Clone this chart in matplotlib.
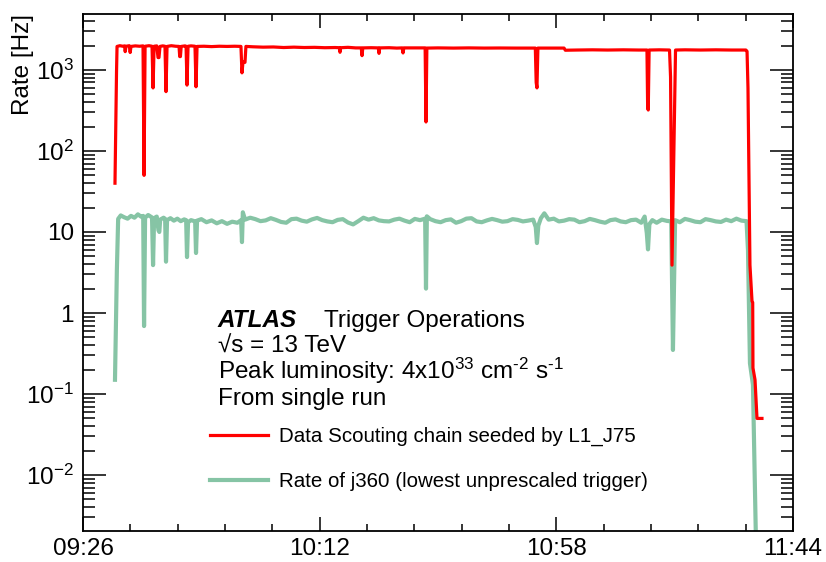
import matplotlib
matplotlib.use("Agg")
import matplotlib.pyplot as plt
import matplotlib.dates as mdates
from matplotlib.ticker import FixedLocator, FixedFormatter, LogLocator, NullFormatter
from matplotlib.lines import Line2D
import numpy as np
import pandas as pd

plt.rcParams['font.family'] = ['Liberation Sans', 'DejaVu Sans']
plt.rcParams['mathtext.fontset'] = 'custom'
plt.rcParams['mathtext.rm'] = 'Liberation Sans'
plt.rcParams['mathtext.it'] = 'Liberation Sans:italic'
plt.rcParams['mathtext.bf'] = 'Liberation Sans:bold'

DAY = "2016-01-01 "

# ---------------- data ----------------
red_times = [
    "09:32:13", "09:32:31", "09:32:37", "09:33:10", "09:33:45", "09:34:05", "09:34:12", "09:34:22",
    "09:35:00", "09:35:10", "09:35:20", "09:36:10", "09:37:00", "09:37:40", "09:37:52", "09:38:04",
    "09:38:50", "09:39:25", "09:39:37", "09:39:49", "09:40:20", "09:40:35", "09:40:46", "09:40:58",
    "09:41:30", "09:41:56", "09:42:08", "09:42:20", "09:43:10", "09:44:00", "09:44:40", "09:44:48",
    "09:44:56", "09:45:05", "09:45:50", "09:46:02", "09:46:13", "09:46:25", "09:47:00", "09:47:46",
    "09:47:58", "09:48:10", "09:49:30", "09:51:00", "09:52:30", "09:54:00", "09:55:30", "09:56:42",
    "09:56:54", "09:57:06", "09:57:29", "09:57:40", "09:59:00", "10:01:00", "10:03:00", "10:05:00",
    "10:07:00", "10:09:00", "10:11:00", "10:13:00", "10:15:00", "10:15:50", "10:15:57", "10:16:05",
    "10:17:30", "10:19:00", "10:20:05", "10:20:14", "10:20:23", "10:22:00", "10:23:24", "10:23:32",
    "10:23:40", "10:25:30", "10:27:00", "10:28:02", "10:28:12", "10:28:22", "10:30:30", "10:32:30",
    "10:32:40", "10:32:50", "10:35:00", "10:38:00", "10:41:00", "10:44:00", "10:47:00", "10:50:00",
    "10:53:55", "10:54:05", "10:54:14", "10:54:25", "10:56:30", "10:59:30", "10:59:45", "11:02:00",
    "11:05:00", "11:08:00", "11:11:00", "11:14:00", "11:15:37", "11:15:45", "11:15:52", "11:16:02",
    "11:18:00", "11:20:00", "11:20:12", "11:20:29", "11:21:10", "11:23:00", "11:26:00", "11:29:00",
    "11:32:00", "11:34:50", "11:35:04", "11:35:15", "11:35:38", "11:36:02", "11:36:10", "11:36:13",
    "11:36:37", "11:37:00", "11:37:58",
]
red_rates = [
    40, 950, 1950, 1990, 1960, 1980, 1680, 1960,
    1990, 1640, 1950, 1980, 1960, 1980, 50, 1960,
    1990, 1960, 600, 1960, 1980, 1420, 1420, 1950,
    1980, 1960, 540, 1950, 1990, 1960, 1950, 1460,
    1460, 1950, 1980, 1960, 650, 1960, 1980, 1960,
    620, 1950, 1960, 1940, 1960, 1950, 1960, 1950,
    920, 1260, 1240, 1950, 1930, 1910, 1920, 1890,
    1910, 1890, 1900, 1880, 1890, 1880, 1650, 1880,
    1900, 1870, 1870, 1500, 1870, 1880, 1870, 1600,
    1870, 1880, 1860, 1870, 1620, 1870, 1870, 1870,
    228, 1860, 1870, 1860, 1870, 1860, 1865, 1860,
    1860, 700, 600, 1860, 1860, 1860, 1750, 1760,
    1770, 1760, 1770, 1760, 1760, 340, 320, 1760,
    1770, 1760, 820, 3.9, 1760, 1770, 1760, 1770,
    1760, 1760, 1700, 600, 3.9, 1.4, 1.35, 0.21,
    0.15, 0.05, 0.05,
]

green_times = [
    "09:32:13", "09:32:35", "09:32:50", "09:33:20", "09:34:00", "09:34:40", "09:35:20", "09:36:00",
    "09:36:40", "09:37:20", "09:37:42", "09:37:52", "09:38:04", "09:38:40", "09:39:25", "09:39:37",
    "09:39:49", "09:40:20", "09:40:40", "09:40:50", "09:41:00", "09:41:40", "09:41:58", "09:42:08",
    "09:42:20", "09:43:00", "09:43:40", "09:44:20", "09:45:00", "09:45:40", "09:46:03", "09:46:13",
    "09:46:25", "09:47:00", "09:47:48", "09:47:58", "09:48:10", "09:49:00", "09:50:00", "09:51:00",
    "09:52:00", "09:53:00", "09:54:00", "09:55:00", "09:56:00", "09:56:44", "09:56:54", "09:57:04",
    "09:57:30", "09:58:30", "09:59:30", "10:00:30", "10:01:30", "10:02:30", "10:03:30", "10:04:30",
    "10:05:30", "10:06:30", "10:07:30", "10:08:30", "10:09:30", "10:10:30", "10:11:30", "10:12:30",
    "10:13:30", "10:14:30", "10:15:30", "10:16:30", "10:17:30", "10:18:30", "10:19:30", "10:20:30",
    "10:21:30", "10:22:30", "10:23:30", "10:24:30", "10:25:30", "10:26:30", "10:27:30", "10:28:30",
    "10:29:30", "10:30:30", "10:31:30", "10:32:30", "10:32:40", "10:32:50", "10:33:30", "10:34:30",
    "10:35:30", "10:36:30", "10:37:30", "10:38:30", "10:39:30", "10:40:30", "10:41:30", "10:42:30",
    "10:43:30", "10:44:30", "10:45:30", "10:46:30", "10:47:30", "10:48:30", "10:49:30", "10:50:30",
    "10:51:30", "10:52:30", "10:53:30", "10:54:00", "10:54:14", "10:54:30", "10:55:00", "10:55:40",
    "10:56:30", "10:57:30", "10:58:30", "10:59:30", "11:00:30", "11:01:30", "11:02:30", "11:03:30",
    "11:04:30", "11:05:30", "11:06:30", "11:07:30", "11:08:30", "11:09:30", "11:10:30", "11:11:30",
    "11:12:30", "11:13:30", "11:14:30", "11:15:10", "11:15:35", "11:15:49", "11:16:05", "11:16:40",
    "11:17:30", "11:18:30", "11:19:30", "11:20:20", "11:20:40", "11:21:05", "11:22:00", "11:23:00",
    "11:24:00", "11:25:00", "11:26:00", "11:27:00", "11:28:00", "11:29:00", "11:30:00", "11:31:00",
    "11:32:00", "11:33:00", "11:34:00", "11:34:58", "11:35:15", "11:35:38", "11:36:13", "11:36:48",
]
green_rates = [
    0.15, 3.4, 14.5, 16.0, 15.2, 14.6, 15.8, 15.0,
    16.5, 15.4, 15.8, 0.69, 15.0, 16.2, 15.1, 3.9,
    14.8, 15.5, 10.5, 10.0, 14.2, 15.0, 14.5, 4.3,
    14.0, 14.8, 13.8, 14.6, 13.6, 14.3, 14.0, 4.9,
    13.2, 14.0, 13.5, 5.5, 13.8, 14.4, 13.2, 13.9,
    12.8, 13.6, 12.6, 13.4, 13.0, 14.0, 7.5, 17.5,
    14.2, 15.0, 14.4, 13.6, 13.9, 14.8, 14.1, 13.3,
    13.0, 14.4, 14.6, 13.8, 13.4, 14.3, 14.9, 14.0,
    13.5, 13.2, 14.1, 14.4, 13.1, 12.4, 13.6, 15.0,
    14.2, 14.8, 13.9, 13.6, 13.5, 14.2, 14.6, 13.8,
    13.2, 14.5, 14.0, 14.6, 2.0, 15.6, 14.4, 13.6,
    13.2, 14.0, 14.3, 13.0, 13.6, 14.6, 14.8, 13.5,
    13.2, 13.9, 14.5, 14.0, 13.4, 13.6, 14.4, 14.1,
    13.5, 13.8, 14.2, 11.5, 7.3, 12.0, 14.8, 17.0,
    14.2, 14.6, 13.5, 13.8, 14.4, 14.2, 13.2, 13.6,
    14.5, 14.0, 13.4, 13.0, 14.0, 14.3, 13.5, 13.2,
    14.0, 14.2, 13.0, 15.5, 9.7, 6.1, 12.5, 14.0,
    13.0, 14.2, 13.7, 13.5, 0.35, 14.0, 13.2, 14.5,
    14.0, 13.4, 13.2, 14.4, 14.0, 13.5, 13.3, 14.2,
    13.6, 14.6, 13.8, 13.6, 6.0, 0.24, 0.13, 0.0015,
]

red_label = "Data Scouting chain seeded by L1_J75"
green_label = "Rate of j360 (lowest unprescaled trigger)"
x_major = ["09:26", "10:12", "10:58", "11:44"]
y_ticks = [1e-2, 1e-1, 1, 10, 1e2, 1e3]
y_ticklabels = [r"$10^{-2}$", r"$10^{-1}$", "1", "10", r"$10^{2}$", r"$10^{3}$"]

RED = "#ff0000"
GREEN = "#86c4a5"

# ---------------- figure ----------------
W, H = 826, 562
fig = plt.figure(figsize=(W / 100, H / 100), dpi=100)
L, R, T, B = 83, 793, 14, 531
ax = fig.add_axes([L / W, 1 - B / H, (R - L) / W, (B - T) / H])

def to_dt(ts):
    return pd.to_datetime([DAY + t for t in ts])

ax.plot(to_dt(green_times), green_rates, color=GREEN, lw=3.0, solid_joinstyle='round', zorder=2)
ax.plot(to_dt(red_times), red_rates, color=RED, lw=2.3, solid_joinstyle='round', zorder=3)

ax.set_yscale('log')
ax.set_ylim(2.04e-3, 4.9e3)
xmaj = mdates.date2num(to_dt(x_major))
ax.set_xlim(xmaj[0], xmaj[-1])

ax.xaxis.set_major_locator(FixedLocator(xmaj))
ax.xaxis.set_major_formatter(mdates.DateFormatter('%H:%M'))
xmin = []
for a, b in zip(xmaj[:-1], xmaj[1:]):
    xmin.extend(np.linspace(a, b, 6)[1:-1])
ax.xaxis.set_minor_locator(FixedLocator(xmin))

ax.yaxis.set_major_locator(FixedLocator(y_ticks))
ax.yaxis.set_major_formatter(FixedFormatter(y_ticklabels))
ax.yaxis.set_minor_locator(LogLocator(base=10, subs=np.arange(2, 10), numticks=20))
ax.yaxis.set_minor_formatter(NullFormatter())

for s in ax.spines.values():
    s.set_linewidth(1.3)
    s.set_color('black')

ax.tick_params(axis='both', which='both', direction='in', top=True, right=True,
               width=1.1, labelsize=17.5, colors='black')
ax.tick_params(axis='y', which='major', length=16.5, pad=6.5)
ax.tick_params(axis='y', which='minor', length=8.6)
ax.tick_params(axis='x', which='major', length=10, pad=5)
ax.tick_params(axis='x', which='minor', length=5)

ax.set_ylabel("Rate [Hz]", fontsize=17.5, loc='top')
ax.yaxis.set_label_coords(-(L - 34) / (R - L), 1.0)

# header text
fs = 17.5
fig.text(218 / W, 1 - 327 / H, "ATLAS", fontsize=fs, fontweight='bold', fontstyle='italic', va='baseline')
fig.text(324 / W, 1 - 327 / H, "Trigger Operations", fontsize=fs, va='baseline')
fig.text(218 / W, 1 - 353 / H, "\u221as = 13 TeV", fontsize=fs, va='baseline')
fig.text(218 / W, 1 - 379 / H, r"Peak luminosity: 4x10$^{33}$ cm$^{\text{-2}}$ s$^{\text{-1}}$",
         fontsize=fs, va='baseline')
fig.text(218 / W, 1 - 405 / H, "From single run", fontsize=fs, va='baseline')

handles = [Line2D([], [], color=RED, lw=2.3), Line2D([], [], color=GREEN, lw=3.0)]
leg = ax.legend(handles, [red_label, green_label], loc='center left',
                bbox_to_anchor=(210 / W, 1 - 459 / H), bbox_transform=fig.transFigure,
                frameon=False, fontsize=14.8, handlelength=2.8, handletextpad=0.55,
                labelspacing=1.25, borderpad=0, borderaxespad=0)

fig.savefig("out.png", dpi=100)
